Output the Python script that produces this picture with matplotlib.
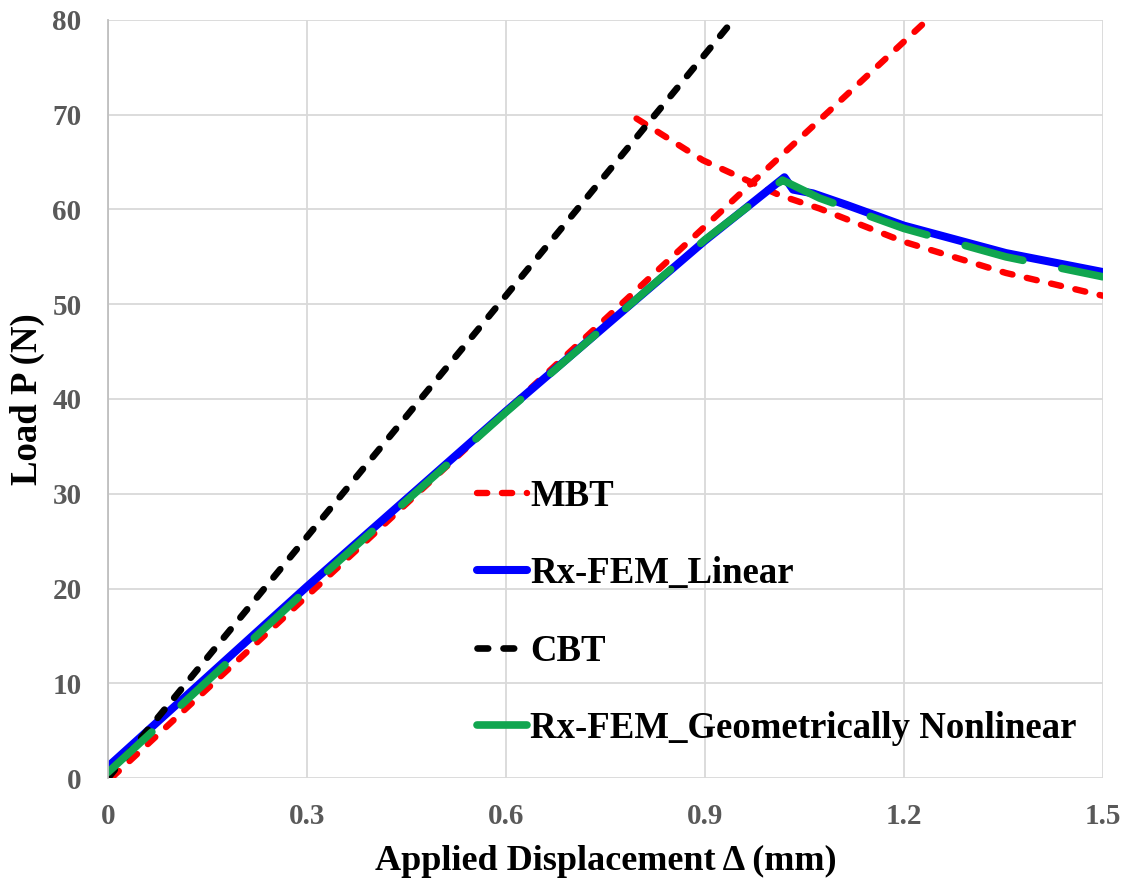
import numpy as np
import matplotlib.pyplot as plt

plt.rcParams['font.family'] = ['Liberation Serif', 'DejaVu Serif']
plt.rcParams['font.weight'] = 'bold'

# MBT: loading branch and softening branch (NaN breaks the line between them)
mbt_x = [0.005, 0.3, 0.6, 0.9, 1.24, 1.30, np.nan,
         0.797, 0.897, 1.013, 1.073, 1.2, 1.354, 1.5]
mbt_y = [0.0, 19.2, 38.7, 58.2, 80.3, 84.2, np.nan,
         69.6, 65.2, 61.5, 60.1, 56.6, 53.3, 50.9]

# Rx-FEM, linear analysis
lin_x = [0.0, 0.3, 0.6, 0.9, 1.02, 1.033, 1.063, 1.113, 1.2, 1.354, 1.5]
lin_y = [1.2, 20.2, 38.7, 56.7, 63.4, 62.1, 61.7, 60.5, 58.3, 55.4, 53.4]

# CBT
cbt_x = [0.0, 0.95]
cbt_y = [0.0, 80.6]

# Rx-FEM, geometrically nonlinear analysis
geo_x = [0.0, 0.3, 0.6, 0.9, 1.017, 1.073, 1.2, 1.354, 1.5]
geo_y = [0.6, 19.9, 38.6, 56.8, 63.1, 61.2, 58.0, 55.0, 52.9]

xticks = [0, 0.3, 0.6, 0.9, 1.2, 1.5]
xticklabels = ['0', '0.3', '0.6', '0.9', '1.2', '1.5']
yticks = [0, 10, 20, 30, 40, 50, 60, 70, 80]

fig = plt.figure(figsize=(11.31, 8.8), dpi=100)
ax = fig.add_axes([0.0955, 0.1159, 0.8795, 0.8614])

ax.plot(mbt_x, mbt_y, color='#FF0000', lw=4.6, dashes=(1.6, 2.3),
        dash_capstyle='round', label='MBT')
ax.plot(lin_x, lin_y, color='#0000FF', lw=5.8, solid_capstyle='round',
        solid_joinstyle='round', label='Rx-FEM_Linear')
ax.plot(cbt_x, cbt_y, color='black', lw=4.8, dashes=(1.6, 2.3),
        dash_capstyle='round', label='CBT')
ax.plot(geo_x, geo_y, color='#10A64F', lw=5.5, dashes=(7.8, 5.2),
        dash_capstyle='round', solid_joinstyle='round',
        label='Rx-FEM_Geometrically Nonlinear')

ax.set_xlim(0, 1.5)
ax.set_ylim(0, 80)
ax.set_xticks(xticks)
ax.set_xticklabels(xticklabels)
ax.set_yticks(yticks)
ax.grid(True, color='#D9D9D9', lw=1.3)
ax.set_axisbelow(True)
for side in ['top', 'right', 'bottom']:
    ax.spines[side].set_visible(False)
ax.spines['left'].set_color('#BFBFBF')
ax.spines['left'].set_linewidth(1.3)
ax.tick_params(length=0, labelsize=21, labelcolor='#595959')
ax.tick_params(axis='x', pad=18)
ax.tick_params(axis='y', pad=19)

ax.set_xlabel('Applied Displacement \u0394 (mm)', fontsize=26, fontweight='bold', labelpad=11)
ax.set_ylabel('Load P (N)', fontsize=26.5, fontweight='bold', labelpad=5)

ax.legend(loc='lower left', bbox_to_anchor=(0.352, 0.018), frameon=False,
          fontsize=26.5, handlelength=1.36, handletextpad=0.1,
          labelspacing=1.15, borderpad=0)

fig.savefig('out.png', dpi=100)
